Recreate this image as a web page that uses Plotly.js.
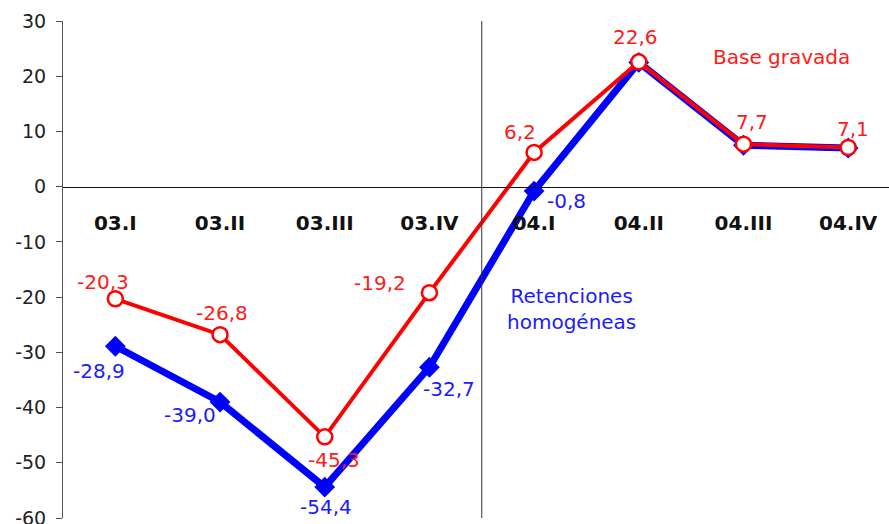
<!DOCTYPE html>
<html>
<head>
<meta charset="utf-8">
<script src="https://cdn.plot.ly/plotly-3.0.1.min.js"></script>
<style>html,body{margin:0;padding:0;background:#fff;}#chart{width:889px;height:524px;}</style>
</head>
<body>
<div id="chart"></div>
<script>
const categories = ["03.I","03.II","03.III","03.IV","04.I","04.II","04.III","04.IV"];
const baseGravada = [-20.3, -26.8, -45.3, -19.2, 6.2, 22.6, 7.7, 7.1];
const retenciones = [-28.9, -39.0, -54.4, -32.7, -0.8, 22.5, 7.5, 7.0];
const yTickVals = [-60, -50, -40, -30, -20, -10, 0, 10, 20, 30];
const yTickText = ["-60", "-50", "-40", "-30", "-20", "-10", "0", "10", "20", "30"];
const blueLabelCount = 5;
const seriesNames = ["Base gravada", "Retenciones<br>homogéneas"];

// label offsets in pixels (style only): [xshift, yshift]
const redLabelShift = [[-12,17],[2,22],[9,-23],[-49,10],[-14,20],[-3,25],[9,22],[5,18]];
const blueLabelShift = [[-16,-25],[-30,-13],[1,-20],[20,-22],[32,-10]];

const fmt = v => v.toFixed(1).replace('.', ',');
const xIdx = categories.map((c, i) => i);
const font = "DejaVu Sans, Verdana, sans-serif";
const RED = '#FF0000', BLUE = '#0000FF';
const RED_TXT = '#FF1a1a', BLUE_TXT = '#1a1aff';

const blue = {
  x: xIdx, y: retenciones, type: 'scatter', mode: 'lines+markers',
  line: {color: BLUE, width: 7},
  marker: {symbol: 'diamond', size: 16, color: BLUE},
  cliponaxis: false, hoverinfo: 'skip', showlegend: false
};
const red = {
  x: xIdx, y: baseGravada, type: 'scatter', mode: 'lines+markers',
  line: {color: RED, width: 4},
  marker: {symbol: 'circle', size: 15, color: '#FFFFFF', line: {color: RED, width: 2.5}},
  cliponaxis: false, hoverinfo: 'skip', showlegend: false
};

const annotations = [];
baseGravada.forEach((v, i) => annotations.push({
  x: i, y: v, xref: 'x', yref: 'y', text: fmt(v), showarrow: false,
  xshift: redLabelShift[i][0], yshift: redLabelShift[i][1],
  font: {family: font, size: 20, color: RED_TXT}
}));
retenciones.slice(0, blueLabelCount).forEach((v, i) => annotations.push({
  x: i, y: v, xref: 'x', yref: 'y', text: fmt(v), showarrow: false,
  xshift: blueLabelShift[i][0], yshift: blueLabelShift[i][1],
  font: {family: font, size: 20, color: BLUE_TXT}
}));
annotations.push(
  {x: 6.36, y: 23.5, xref: 'x', yref: 'y', text: seriesNames[0], showarrow: false,
   font: {family: font, size: 20, color: RED_TXT}},
  {x: 4.36, y: -22.1, xref: 'x', yref: 'y', text: seriesNames[1], showarrow: false,
   font: {family: font, size: 20, color: BLUE_TXT}, align: 'center'}
);

const yMin = -60, yMax = 30;
const layout = {
  width: 889, height: 524,
  margin: {l: 63, r: 0, t: 21, b: 6},
  paper_bgcolor: '#fff', plot_bgcolor: '#fff',
  font: {family: font, size: 19, color: '#222'},
  xaxis: {
    range: [-0.5, 7.39], tickvals: xIdx, ticktext: categories,
    anchor: 'free', position: (0 - yMin) / (yMax - yMin),
    showline: true, linecolor: '#111', linewidth: 1,
    showgrid: false, zeroline: false, ticks: '',
    ticklabelstandoff: 18,
    tickfont: {family: font, size: 20, color: '#111', weight: 'bold'}
  },
  yaxis: {
    range: [yMin, yMax], tickvals: yTickVals, ticktext: yTickText,
    showline: true, linecolor: '#555', linewidth: 1,
    ticks: 'outside', ticklen: 6, tickcolor: '#555',
    showgrid: false, zeroline: false,
    ticklabelstandoff: 6, ticklabeloverflow: 'allow',
    tickfont: {family: font, size: 19, color: '#222'}
  },
  shapes: [{
    type: 'line', xref: 'x', yref: 'y', x0: 3.5, x1: 3.5, y0: yMin, y1: yMax,
    line: {color: '#333', width: 1}
  }],
  annotations: annotations
};

Plotly.newPlot('chart', [blue, red], layout, {displayModeBar: false, staticPlot: true});
</script>
</body>
</html>
